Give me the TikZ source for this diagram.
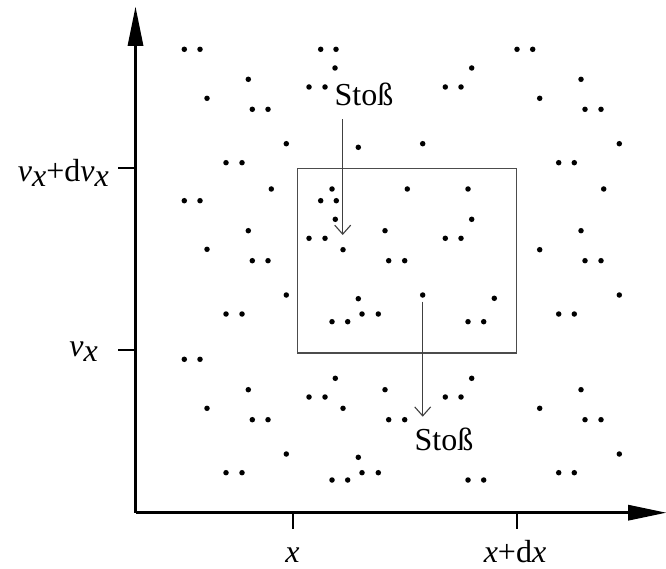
\documentclass[tikz,border=0pt]{standalone}
\usepackage{fontspec}
\setmainfont{Liberation Serif}
\usetikzlibrary{arrows.meta}
\tikzset{
  axisline/.style={line width=2.6pt, black},
  tickline/.style={line width=2pt, black},
  boxline/.style={line width=1.1pt, black!70},
  hitarrow/.style={line width=1.1pt, black!75, -{Straight Barb[length=9pt,width=16pt,line width=1.1pt]}},
  lbl/.style={inner sep=0pt, font=\fontsize{32}{36}\selectfont},
  dot/.style={black}
}
\newcommand{\subx}{\raisebox{-0.15em}{\textit{x}}}
\begin{document}
\begin{tikzpicture}[x=1pt,y=-1pt]
\useasboundingbox (0,0) rectangle (666,569);
% axes
\coordinate (O) at (135.5,512.7);
\coordinate (ytop) at (135.5,7);
\coordinate (xend) at (666,512.7);
\draw[axisline] (O) -- (135.5,46);
\fill (ytop) -- (127.5,46) -- (143.5,46) -- cycle;
\draw[axisline] (O) -- (628,512.7);
\fill (xend) -- (628,504.7) -- (628,520.7) -- cycle;
% ticks
\coordinate (ty1a) at (118,168.3); \coordinate (ty1b) at (135.5,168.3);
\coordinate (ty2a) at (118,350); \coordinate (ty2b) at (135.5,350);
\coordinate (tx1a) at (293.3,512.7); \coordinate (tx1b) at (293.3,529);
\coordinate (tx2a) at (516.7,512.7); \coordinate (tx2b) at (516.7,529);
\draw[tickline] (ty1a) -- (ty1b);
\draw[tickline] (ty2a) -- (ty2b);
\draw[tickline] (tx1a) -- (tx1b);
\draw[tickline] (tx2a) -- (tx2b);
% labels
\node[lbl, anchor=base east] (lvdv) at (109,182) {\textit{v}\subx+d\textit{v}\subx};
\node[lbl, anchor=base east] (lv) at (98,356.7) {\textit{v}\subx};
\node[lbl, anchor=base] (lx) at (292.5,562.5) {\textit{x}};
\node[lbl, anchor=base] (lxdx) at (515,562.5) {\textit{x}+d\textit{x}};
% box
\draw[boxline] (297.5,168.5) rectangle (516.5,353);
% dots
\foreach \p in {
(184.3,49.3),(200,49.3),(248.3,79.3),(207,98.3),(252.3,109.3),(268,109.3),(286.3,143.7),(226,162.7),(242,162.7),
(184.3,200.7),(200,200.7),(248.3,230.7),(207,249.3),(252.3,260.7),(268,260.7),(286.3,295),(226,314),(242,314),(271.3,189),
(184.3,359.3),(200,359.3),(248.3,389.7),(207,408.3),(252.3,419.7),(268,419.7),(286.3,454),(226,472.7),(242,472.7),
(517,49.3),(532.7,49.3),(581,79.3),(539.7,98.3),(585,109.3),(601,109.3),(619.3,143.7),(558.7,162.7),(574.3,162.7),
(603.7,189),(581,230.7),(539.7,249.7),(585,260.7),(601,260.7),(619.3,295),(558.7,314),(574.3,314),
(581,389.7),(539.7,408.3),(585,419.7),(601,419.7),(619.3,454),(558.7,472.7),(574.3,472.7),
(320.7,49.3),(336,49.3),(335,68),(309,87),(325,87),(471.7,68),(445.3,87),(461,87),(358.3,147.3),(422.7,143.7),
(332,189),(320.7,200.7),(336.3,200.7),(335.3,219.3),(309,238.3),(325,238.3),(343,249.7),(407.3,189),(385,230.7),(388.7,260.7),(404.7,260.7),(468,189),(471.7,219.3),(445.3,238.3),(461,238.3),(358.3,298.7),(422.7,295),(362,314),(378.3,314),(494.3,298.3),
(332,321.7),(347.7,321.7),(468,321.7),(483.7,321.7),(335.3,378.3),(309,397),(325,397),(343,408.3),(385,389.7),(388.7,419.7),(404.7,419.7),(471.7,378.3),(445.3,397),(461,397),(358.3,457.3),(362,472.7),(378.3,472.7),(332,480),(347.7,480),(468,480),(483.7,480)}
  \fill[dot] \p circle (2.75);
% collisions
\node[lbl] (stoss1) at (364,94) {Stoß};
\node[lbl] (stoss2) at (444,439) {Stoß};
\coordinate (a1s) at (342.7,119.3);
\coordinate (a1e) at (342.7,235);
\coordinate (a2s) at (422.7,301.7);
\coordinate (a2e) at (422.7,416.7);
\draw[hitarrow] (a1s) -- (a1e);
\draw[hitarrow] (a2s) -- (a2e);
\end{tikzpicture}
\end{document}
